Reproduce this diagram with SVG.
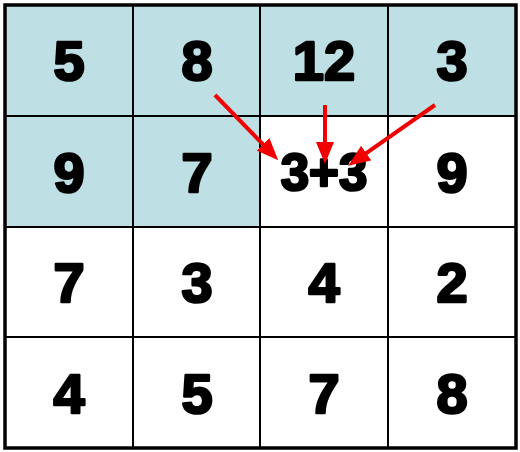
<svg xmlns="http://www.w3.org/2000/svg" width="520" height="452" viewBox="0 0 520 452">
<defs>
<style>
.cell{stroke:#000;stroke-width:2}
.hl{fill:#BEDFE3}
.wh{fill:#FFFFFF}
.num{font-family:"Liberation Sans",Arial,sans-serif;font-weight:bold;font-size:56px;fill:#000;stroke:#000;stroke-width:2.6;stroke-linejoin:round;text-anchor:middle}
.arrow{stroke:#F00000;stroke-width:4;fill:none}
</style>
<marker id="ah" markerUnits="userSpaceOnUse" markerWidth="22" markerHeight="18" refX="13" refY="9" orient="auto">
<path d="M0,0 L22,9 L0,18 z" fill="#F00000"/>
</marker>
</defs>
<rect x="0" y="0" width="520" height="452" fill="#FFFFFF"/>
<g id="r1c1"><rect class="cell hl" x="5" y="5" width="128" height="111"/><text class="num" x="69" y="80">5</text></g>
<g id="r1c2"><rect class="cell hl" x="133" y="5" width="127" height="111"/><text class="num" x="197" y="80">8</text></g>
<g id="r1c3"><rect class="cell hl" x="260" y="5" width="128" height="111"/><text class="num" x="324" y="80">12</text></g>
<g id="r1c4"><rect class="cell hl" x="388" y="5" width="128" height="111"/><text class="num" x="452" y="80">3</text></g>
<g id="r2c1"><rect class="cell hl" x="5" y="116" width="128" height="111"/><text class="num" x="69" y="192">9</text></g>
<g id="r2c2"><rect class="cell hl" x="133" y="116" width="127" height="111"/><text class="num" x="197" y="192">7</text></g>
<g id="r2c3"><rect class="cell wh" x="260" y="116" width="128" height="111"/><text class="num" x="324" y="190" style="font-size:51px">3+3</text></g>
<g id="r2c4"><rect class="cell wh" x="388" y="116" width="128" height="111"/><text class="num" x="452" y="192">9</text></g>
<g id="r3c1"><rect class="cell wh" x="5" y="227" width="128" height="110"/><text class="num" x="69" y="302">7</text></g>
<g id="r3c2"><rect class="cell wh" x="133" y="227" width="127" height="110"/><text class="num" x="197" y="302">3</text></g>
<g id="r3c3"><rect class="cell wh" x="260" y="227" width="128" height="110"/><text class="num" x="324" y="302">4</text></g>
<g id="r3c4"><rect class="cell wh" x="388" y="227" width="128" height="110"/><text class="num" x="452" y="302">2</text></g>
<g id="r4c1"><rect class="cell wh" x="5" y="337" width="128" height="111"/><text class="num" x="69" y="413">4</text></g>
<g id="r4c2"><rect class="cell wh" x="133" y="337" width="127" height="111"/><text class="num" x="197" y="413">5</text></g>
<g id="r4c3"><rect class="cell wh" x="260" y="337" width="128" height="111"/><text class="num" x="324" y="413">7</text></g>
<g id="r4c4"><rect class="cell wh" x="388" y="337" width="128" height="111"/><text class="num" x="452" y="413">8</text></g>
<rect x="5" y="5" width="511" height="443" fill="none" stroke="#000" stroke-width="3.5"/>
<g id="connectors">
<line class="arrow" x1="215" y1="95" x2="272" y2="153.7" marker-end="url(#ah)"/>
<line class="arrow" x1="325" y1="105" x2="325" y2="155" marker-end="url(#ah)"/>
<line class="arrow" x1="435" y1="105" x2="355.6" y2="160.6" marker-end="url(#ah)"/>
</g>
</svg>
